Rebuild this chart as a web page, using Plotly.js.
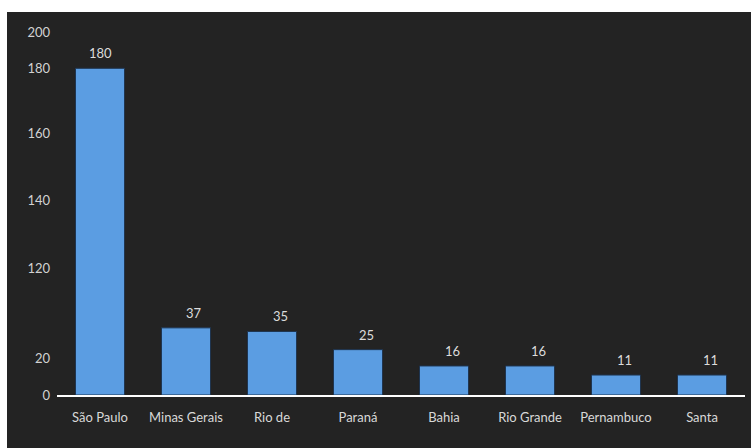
<!DOCTYPE html>
<html>
<head>
<meta charset="utf-8">
<script src="https://cdn.plot.ly/plotly-3.0.1.min.js"></script>
<style>
  html, body { margin: 0; padding: 0; background: #ffffff; width: 751px; height: 448px; overflow: hidden; }
  #chart { position: absolute; left: 7px; top: 12px; width: 744px; height: 436px; }
</style>
</head>
<body>
<div id="chart"></div>
<script>
// Data
var states = ["São Paulo", "Minas Gerais", "Rio de", "Paraná", "Bahia", "Rio Grande", "Pernambuco", "Santa"];
var counts = [180, 37, 35, 25, 16, 16, 11, 11];

// Y tick labels as drawn in the reference (label positions are irregular in the original)
var yTickVals = [0, 20, 70, 107, 144, 180, 200];
var yTickText = ["0", "20", "120", "140", "160", "180", "200"];

var fontFamily = "Lato, 'Open Sans', sans-serif";

var trace = {
  type: "bar",
  x: states,
  y: counts,
  marker: { color: "#5b9de2", line: { color: "#1f3550", width: 1 } },
  hoverinfo: "x+y"
};

var annotations = states.map(function (s, i) {
  return {
    x: s, y: counts[i], xref: "x", yref: "y",
    text: String(counts[i]), showarrow: false,
    yanchor: "middle", yshift: 15, xshift: i === 0 ? 0 : 8,
    font: { family: fontFamily, size: 13, color: "#dcdcdc" }
  };
});

var layout = {
  width: 744, height: 436,
  paper_bgcolor: "#232323",
  plot_bgcolor: "#232323",
  margin: { l: 50, r: 6, t: 20, b: 53 },
  bargap: 0.43,
  showlegend: false,
  xaxis: {
    type: "category",
    showline: true, linecolor: "#ffffff", linewidth: 2,
    showgrid: false, zeroline: false, ticks: "",
    tickfont: { family: fontFamily, size: 13, color: "#d8d8d8" },
    ticklabelstandoff: 9,
    fixedrange: true
  },
  yaxis: {
    range: [0, 200],
    tickmode: "array", tickvals: yTickVals, ticktext: yTickText,
    showline: false, showgrid: false, zeroline: false, ticks: "",
    tickfont: { family: fontFamily, size: 13, color: "#d2d2d2" },
    ticklabelstandoff: 6,
    fixedrange: true
  },
  annotations: annotations
};

Plotly.newPlot("chart", [trace], layout, { displayModeBar: false, staticPlot: true });
</script>
</body>
</html>
